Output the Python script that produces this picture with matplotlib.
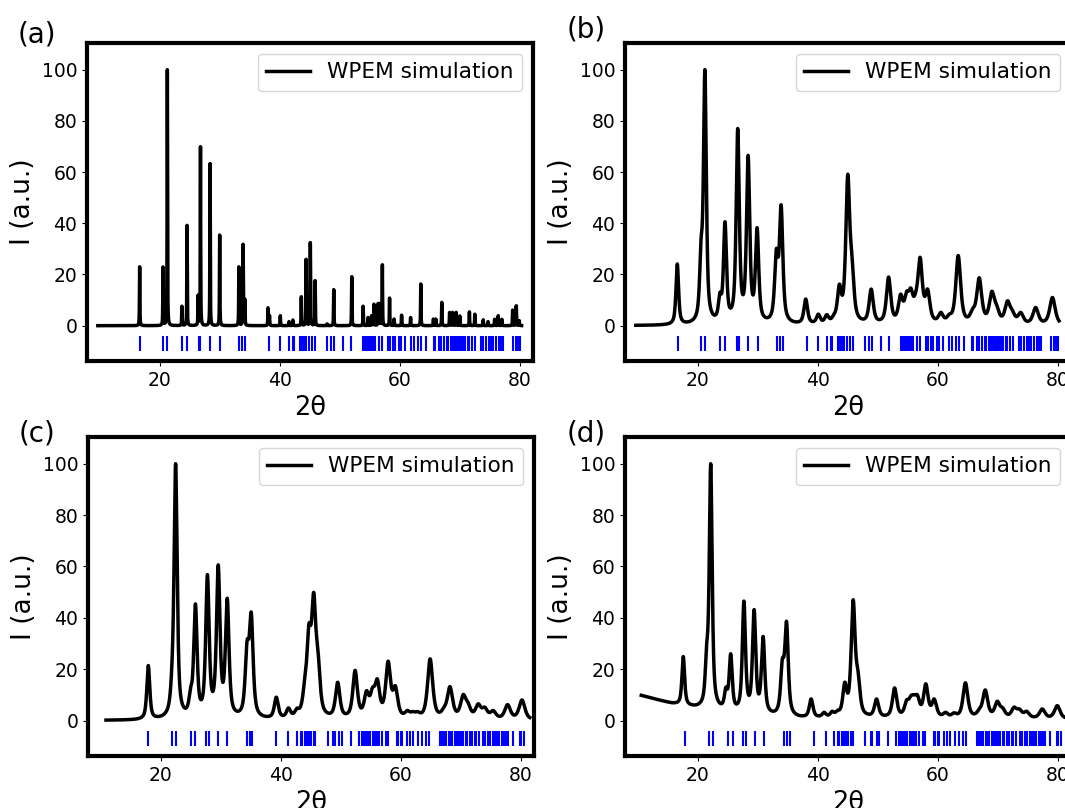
import numpy as np
import matplotlib
matplotlib.use("Agg")
import matplotlib.pyplot as plt

# Bragg positions (blue ticks)
ticks_ab = [16.7, 20.6, 21.2, 23.7, 24.6, 26.5, 26.8, 28.4, 30.0, 33.2, 33.7, 34.2,
            38.2, 40.1, 41.6, 42.2, 42.4, 43.3, 43.7, 44.0, 44.4, 44.9, 45.3, 45.8,
            47.8, 48.6, 49.0, 50.6, 51.9, 53.8, 54.0, 54.3, 54.6, 54.9, 55.2, 55.5,
            55.8, 56.5, 57.0, 58.0, 58.3, 58.8, 59.2, 59.8, 60.2, 60.8, 61.8, 62.3,
            63.0, 63.6, 64.3, 65.7, 65.9, 66.6, 66.9, 67.4, 67.8, 68.1, 68.6, 68.9,
            69.2, 69.5, 69.9, 70.2, 70.5, 70.9, 71.3, 71.6, 72.0, 72.6, 73.6, 73.9,
            74.4, 74.8, 75.2, 75.6, 76.1, 76.5, 76.9, 77.2, 78.9, 79.3, 79.7, 80.0]
ticks_cd = [17.9, 21.9, 22.5, 25.0, 25.8, 27.6, 28.0, 29.6, 31.1, 34.4, 34.9, 35.3,
            39.3, 41.3, 42.7, 43.4, 43.6, 44.0, 44.4, 44.7, 45.1, 45.5, 45.8,
            47.9, 48.8, 49.0, 49.8, 50.2, 51.7, 53.1, 53.6, 53.9, 54.2, 54.5, 54.9,
            55.3, 55.7, 56.0, 56.4, 56.8, 57.5, 57.9, 59.3, 59.6, 60.0, 60.2, 61.0,
            61.5, 62.1, 62.9, 63.5, 64.2, 64.7, 66.5, 66.8, 67.1, 67.4, 67.6, 68.0,
            68.3, 68.6, 69.0, 69.3, 69.7, 70.0, 70.4, 70.8, 71.1, 71.5, 71.9, 72.3,
            72.6, 73.0, 73.7, 74.1, 74.5, 74.9, 75.3, 75.7, 76.0, 76.4, 76.8, 77.2,
            77.5, 77.9, 78.7, 79.8, 80.1, 80.5]

# (a) peak positions / intensities
pos_a = [16.67, 20.56, 21.28, 23.7, 24.56, 26.4, 26.8, 28.4, 30.0, 33.2, 33.9, 34.2,
         38.05, 38.3, 40.1, 41.55, 42.2, 43.6, 44.4, 45.1, 45.9, 47.9, 49.0, 52.0,
         53.9, 54.7, 55.3, 55.7, 56.4, 56.7, 57.1, 58.3, 59.05, 60.3, 61.8, 63.5,
         65.6, 66.0, 67.0, 68.3, 68.8, 69.4, 70.0, 71.6, 72.5, 73.9, 74.7, 75.8,
         76.4, 77.0, 78.8, 79.4, 79.9]
int_a = [23, 23, 100, 7.6, 39.3, 12, 70, 63.3, 35.4, 23, 31.9, 10.4,
         7, 4, 3.9, 1.6, 2.2, 11.3, 26, 32.5, 17.6, 0.7, 14.1, 19.2,
         7.6, 3.2, 3.9, 8.4, 8.7, 8.7, 23.8, 10.8, 2.6, 4.1, 3.2, 16.3,
         2.6, 2.6, 9.1, 5.2, 5.2, 5.2, 3.8, 5.4, 4.5, 2.3, 1.6, 2.5,
         3.9, 2.5, 6.1, 7.8, 2.0]

# (b)
pos_b = [16.6, 20.56, 21.2, 23.7, 24.55, 26.67, 28.4, 29.9, 33.1, 33.9, 38.0, 40.1,
         41.5, 42.7, 43.6, 45.0, 45.7, 48.9, 51.8, 53.8, 54.8, 55.5, 56.3, 57.05,
         58.3, 60.5, 61.9, 63.4, 65.8, 66.9, 69.0, 69.8, 71.6, 72.4, 73.8, 76.3, 79.1]
int_b = [24.1, 34, 100, 13, 40.6, 77, 66.5, 38.3, 30, 47.2, 10.4, 4.5,
         4.3, 4.5, 16.2, 59.1, 27.4, 14.3, 19, 12.3, 13.4, 14.7, 13, 26.7,
         14.3, 5.2, 4.5, 27.4, 6.7, 18.7, 13.4, 8.2, 9.7, 6.2, 5.2, 7.1, 11]

# (c)
pos_c = [17.95, 21.9, 22.5, 25.0, 25.8, 27.8, 29.6, 31.1, 34.4, 35.1, 39.27, 41.3,
         42.7, 43.4, 44.0, 44.7, 45.5, 46.2, 49.5, 52.4, 54.3, 55.3, 56.1, 57.9,
         59.1, 61.1, 62.0, 62.8, 64.9, 67.2, 68.2, 70.4, 71.2, 72.9, 74.0, 75.4,
         77.8, 80.2]
int_c = [21.4, 23, 100, 13, 45.4, 56.8, 60.6, 47.6, 31.1, 42.1, 9.1, 4.9,
         4.8, 4.8, 16.2, 37.6, 49.9, 27.9, 14.9, 19.5, 11.6, 12.9, 16.2, 23.1,
         13.5, 3.9, 3.5, 3.5, 24, 5.2, 13.2, 10.1, 7.1, 6.5, 5.2, 3.9,
         6.2, 8]

# (d)
pos_d = [17.6, 21.5, 22.17, 24.7, 25.5, 27.7, 29.4, 30.9, 34.1, 34.8, 38.9, 41.05,
         42.4, 43.3, 44.5, 45.9, 46.7, 49.8, 52.8, 54.8, 55.5, 56.0, 56.6, 58.0,
         59.4, 61.3, 62.7, 64.6, 66.9, 67.9, 69.9, 70.8, 72.7, 73.6, 74.8, 77.4,
         79.9]
int_d = [24.9, 30, 100, 13, 26, 46.5, 43.2, 32.7, 24, 38.6, 8.4, 3.2,
         3.6, 4, 14.9, 47, 19.5, 8.4, 12.7, 8, 9.7, 10.1, 10, 14.3,
         8.4, 3.2, 3, 14.7, 4.5, 11.9, 7.5, 5, 5.2, 4.5, 3.6, 4.5,
         5.8]
bg_d_x = [10.6, 15.8, 19.7, 26, 32.7, 37, 83]
bg_d_y = [9.7, 6.4, 4.6, 2.5, 1.2, 0.7, 0.5]


def fwhm_at(p, w_lo, w_hi):
    return w_lo + (w_hi - w_lo) * (np.asarray(p) - 15) / 65


def profile(x, x0, w, eta=0.7):
    g = np.exp(-4 * np.log(2) * ((x - x0) / w) ** 2)
    l = 1 / (1 + 4 * ((x - x0) / w) ** 2)
    return eta * l + (1 - eta) * g


def pattern(x, pos, target, w_lo, w_hi, bg_x=None, bg_y=None):
    pos = np.array(pos)
    target = np.array(target, dtype=float)
    w = fwhm_at(pos, w_lo, w_hi)
    bg = np.zeros_like(x)
    bg_at = np.zeros_like(pos)
    if bg_x is not None:
        bg = np.interp(x, bg_x, bg_y)
        bg_at = np.interp(pos, bg_x, bg_y)
    A = profile(pos[:, None], pos[None, :], w[None, :])
    amps = target - bg_at
    for _ in range(600):
        amps = np.clip(amps + 0.5 * (target - bg_at - A @ amps), 0, None)
    y = bg + (amps[None, :] * profile(x[:, None], pos[None, :], w[None, :])).sum(axis=1)
    return y


x_a = np.linspace(9.7, 80.3, 14000)
y_a = pattern(x_a, pos_a, int_a, 0.08, 0.08)
x_b = np.linspace(9.7, 80.2, 6000)
y_b = pattern(x_b, pos_b, int_b, 0.5, 1.1)
x_c = np.linspace(10.9, 81.5, 6000)
y_c = pattern(x_c, pos_c, int_c, 0.55, 1.15)
x_d = np.linspace(10.6, 83.0, 6000)
y_d = pattern(x_d, pos_d, int_d, 0.5, 1.1, bg_d_x, bg_d_y)

fig = plt.figure(figsize=(10.65, 8.08), dpi=100)
rects = [[0.0817, 0.5532, 0.4188, 0.3936], [0.5869, 0.5532, 0.4188, 0.3936],
         [0.0826, 0.0644, 0.4188, 0.3948], [0.5869, 0.0644, 0.4188, 0.3948]]
panels = [(x_a, y_a, ticks_ab), (x_b, y_b, ticks_ab),
          (x_c, y_c, ticks_cd), (x_d, y_d, ticks_cd)]
labels = ["(a)", "(b)", "(c)", "(d)"]
label_pos = [(0.035, 0.957), (0.550, 0.963), (0.035, 0.463), (0.550, 0.463)]

for rect, (xx, yy, tk), lab, lp in zip(rects, panels, labels, label_pos):
    ax = fig.add_axes(rect)
    ax.plot(xx, yy, color="black", lw=2.5, label="WPEM simulation")
    ax.vlines(tk, -10, -4, colors="blue", lw=1.5)
    ax.set_xlim(7.9, 82.2)
    ax.set_ylim(-13.8, 110.4)
    ax.set_xticks([20, 40, 60, 80])
    ax.set_yticks([0, 20, 40, 60, 80, 100])
    ax.tick_params(labelsize=13.5)
    for s in ax.spines.values():
        s.set_linewidth(3)
    ax.set_xlabel("2θ", fontsize=18.5)
    ax.set_ylabel("I (a.u.)", fontsize=19)
    ax.legend(loc="upper right", fontsize=15.6)
    fig.text(lp[0], lp[1], lab, fontsize=20, ha="center", va="center")

plt.savefig("out.png", dpi=100)
